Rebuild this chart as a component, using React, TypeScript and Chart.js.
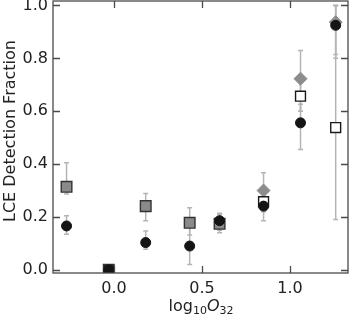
import React, { useEffect, useRef } from "react";
import { Chart, registerables } from "chart.js";

Chart.register(...registerables);

// log10 O32 bins (low-O32 bins, shared by circles and grey squares)
const lowBinX = [-0.27, -0.03, 0.18, 0.43, 0.6];
const greySqY = [0.314, 0.0, 0.241, 0.178, 0.174];
const greySqLo = [0.287, 0.0, 0.186, 0.132, 0.15];
const greySqHi = [0.405, 0.0, 0.289, 0.235, 0.21];

// all bins (black circles)
const circX = [-0.27, -0.03, 0.18, 0.43, 0.6, 0.85, 1.06, 1.26];
const circY = [0.166, 0.0, 0.103, 0.09, 0.186, 0.241, 0.556, 0.925];
const circLo = [0.135, 0.0, 0.078, 0.02, 0.14, 0.186, 0.455, 0.8];
const circHi = [0.205, 0.0, 0.147, 0.16, 0.214, 0.3, 0.626, 1.0];

// high-O32 bins (open squares and grey diamonds)
const highBinX = [0.85, 1.06, 1.26];
const openSqY = [0.258, 0.657, 0.538];
const openSqLo = [0.22, 0.6, 0.19];
const openSqHi = [0.3, 0.72, 1.0];
const diamY = [0.3, 0.723, 0.937];
const diamLo = [0.25, 0.6, 0.815];
const diamHi = [0.367, 0.83, 1.0];

const xTicks = [0, 0.5, 1.0];
const yTicks = [0, 0.2, 0.4, 0.6, 0.8, 1.0];
const yTitle = "LCE Detection Fraction";

const FONT = "'DejaVu Sans', sans-serif";

function pts(xs: number[], ys: number[]) {
  return xs.map((x, i) => ({ x, y: ys[i] }));
}

const errorBarPlugin = {
  id: "errorBars",
  beforeDatasetsDraw(chart: any) {
    const ctx = chart.ctx;
    const xs = chart.scales.x;
    const ys = chart.scales.y;
    const area = chart.chartArea;
    ctx.save();
    ctx.beginPath();
    ctx.rect(area.left, area.top - 1, area.right - area.left, area.bottom - area.top + 2);
    ctx.clip();
    ctx.strokeStyle = "#b5b5b5";
    ctx.lineWidth = 1.5;
    chart.data.datasets.forEach((ds: any) => {
      if (!ds.errLo) return;
      ds.data.forEach((p: any, i: number) => {
        const lo = ds.errLo[i];
        const hi = ds.errHi[i];
        if (hi - lo <= 0) return;
        const px = xs.getPixelForValue(p.x);
        const py1 = ys.getPixelForValue(lo);
        const py2 = ys.getPixelForValue(hi);
        ctx.beginPath();
        ctx.moveTo(px, py1);
        ctx.lineTo(px, py2);
        ctx.moveTo(px - 2.5, py1);
        ctx.lineTo(px + 2.5, py1);
        ctx.moveTo(px - 2.5, py2);
        ctx.lineTo(px + 2.5, py2);
        ctx.stroke();
      });
    });
    ctx.restore();
  },
};

const framePlugin = {
  id: "frame",
  afterDatasetsDraw(chart: any) {
    const ctx = chart.ctx;
    const { left, right, top, bottom } = chart.chartArea;
    const xs = chart.scales.x;
    const ys = chart.scales.y;
    const tl = 7;
    ctx.save();
    ctx.strokeStyle = "#4a4a4a";
    ctx.lineWidth = 1.3;
    ctx.strokeRect(left, top, right - left, bottom - top);
    ctx.beginPath();
    xTicks.forEach((v) => {
      const px = Math.round(xs.getPixelForValue(v)) + 0.5;
      ctx.moveTo(px, bottom);
      ctx.lineTo(px, bottom - tl);
      ctx.moveTo(px, top);
      ctx.lineTo(px, top + tl);
    });
    yTicks.forEach((v) => {
      const py = Math.round(ys.getPixelForValue(v)) + 0.5;
      ctx.moveTo(left, py);
      ctx.lineTo(left + tl, py);
      ctx.moveTo(right, py);
      ctx.lineTo(right - tl, py);
    });
    ctx.stroke();
    // y-axis title
    ctx.translate(14.5, 131);
    ctx.rotate(-Math.PI / 2);
    ctx.fillStyle = "#222";
    ctx.font = `16px ${FONT}`;
    ctx.textAlign = "center";
    ctx.textBaseline = "alphabetic";
    ctx.fillText(yTitle, 0, 0);
    ctx.restore();
  },
};

export default function App() {
  const ref = useRef<HTMLCanvasElement | null>(null);

  useEffect(() => {
    document.body.style.margin = "0";
    if (!ref.current) return;
    const chart = new Chart(ref.current, {
      type: "scatter",
      data: {
        datasets: [
          {
            label: "circles",
            data: pts(circX, circY),
            errLo: circLo,
            errHi: circHi,
            pointStyle: "circle",
            pointRadius: 5,
            backgroundColor: "#151515",
            borderColor: "#151515",
            borderWidth: 1,
            order: 1,
          } as any,
          {
            label: "open squares",
            data: pts(highBinX, openSqY),
            errLo: openSqLo,
            errHi: openSqHi,
            pointStyle: "rect",
            pointRadius: 7,
            backgroundColor: "#ffffff",
            borderColor: "#1a1a1a",
            borderWidth: 1.4,
            order: 2,
          } as any,
          {
            label: "grey squares",
            data: pts(lowBinX, greySqY),
            errLo: greySqLo,
            errHi: greySqHi,
            pointStyle: "rect",
            pointRadius: 7.5,
            backgroundColor: lowBinX.map((_, i) => (greySqY[i] === 0 ? "#222222" : "#8a8a8a")),
            borderColor: "#333333",
            borderWidth: 1.4,
            order: 3,
          } as any,
          {
            label: "diamonds",
            data: pts(highBinX, diamY),
            errLo: diamLo,
            errHi: diamHi,
            pointStyle: "rectRot",
            pointRadius: 6.5,
            backgroundColor: "#8c8c8c",
            borderColor: "#8c8c8c",
            borderWidth: 1,
            order: 4,
          } as any,
        ],
      },
      options: {
        animation: false,
        responsive: false,
        maintainAspectRatio: false,
        layout: { autoPadding: false, padding: { top: 1, right: 2, left: 0, bottom: 0 } },
        plugins: {
          legend: { display: false },
          tooltip: { enabled: false },
        },
        scales: {
          x: {
            type: "linear",
            min: -0.347,
            max: 1.33,
            grid: { display: false, drawTicks: false },
            border: { display: false },
            ticks: {
              includeBounds: false,
              padding: 6,
              color: "#222",
              font: { family: FONT, size: 16 },
              callback: (v: any) => Number(v).toFixed(1),
            },
            afterBuildTicks: (s: any) => {
              s.ticks = xTicks.map((v) => ({ value: v }));
            },
            afterFit: (s: any) => {
              s.height = 43;
              s.paddingLeft = 0;
              s.paddingRight = 0;
            },
          },
          y: {
            type: "linear",
            min: -0.012,
            max: 1.017,
            grid: { display: false, drawTicks: false },
            border: { display: false },
            ticks: {
              includeBounds: false,
              padding: 5,
              color: "#222",
              font: { family: FONT, size: 16 },
              callback: (v: any) => Number(v).toFixed(1),
            },
            afterBuildTicks: (s: any) => {
              s.ticks = yTicks.map((v) => ({ value: v }));
            },
            afterFit: (s: any) => {
              s.width = 53;
              s.paddingTop = 0;
              s.paddingBottom = 0;
            },
          },
        },
      },
      plugins: [errorBarPlugin, framePlugin],
    } as any);
    return () => chart.destroy();
  }, []);

  const sub: React.CSSProperties = { fontSize: "11px", verticalAlign: "-3px" };

  return (
    <div style={{ position: "relative", width: 350, height: 316 }}>
      <canvas ref={ref} width={350} height={316} style={{ display: "block" }} />
      <div
        style={{
          position: "absolute",
          left: 201,
          top: 298,
          transform: "translateX(-50%)",
          fontFamily: FONT,
          fontSize: "16px",
          lineHeight: "16px",
          color: "#222",
          whiteSpace: "nowrap",
        }}
      >
        log<span style={sub}>10</span>
        <i>O</i>
        <span style={sub}>32</span>
      </div>
    </div>
  );
}
